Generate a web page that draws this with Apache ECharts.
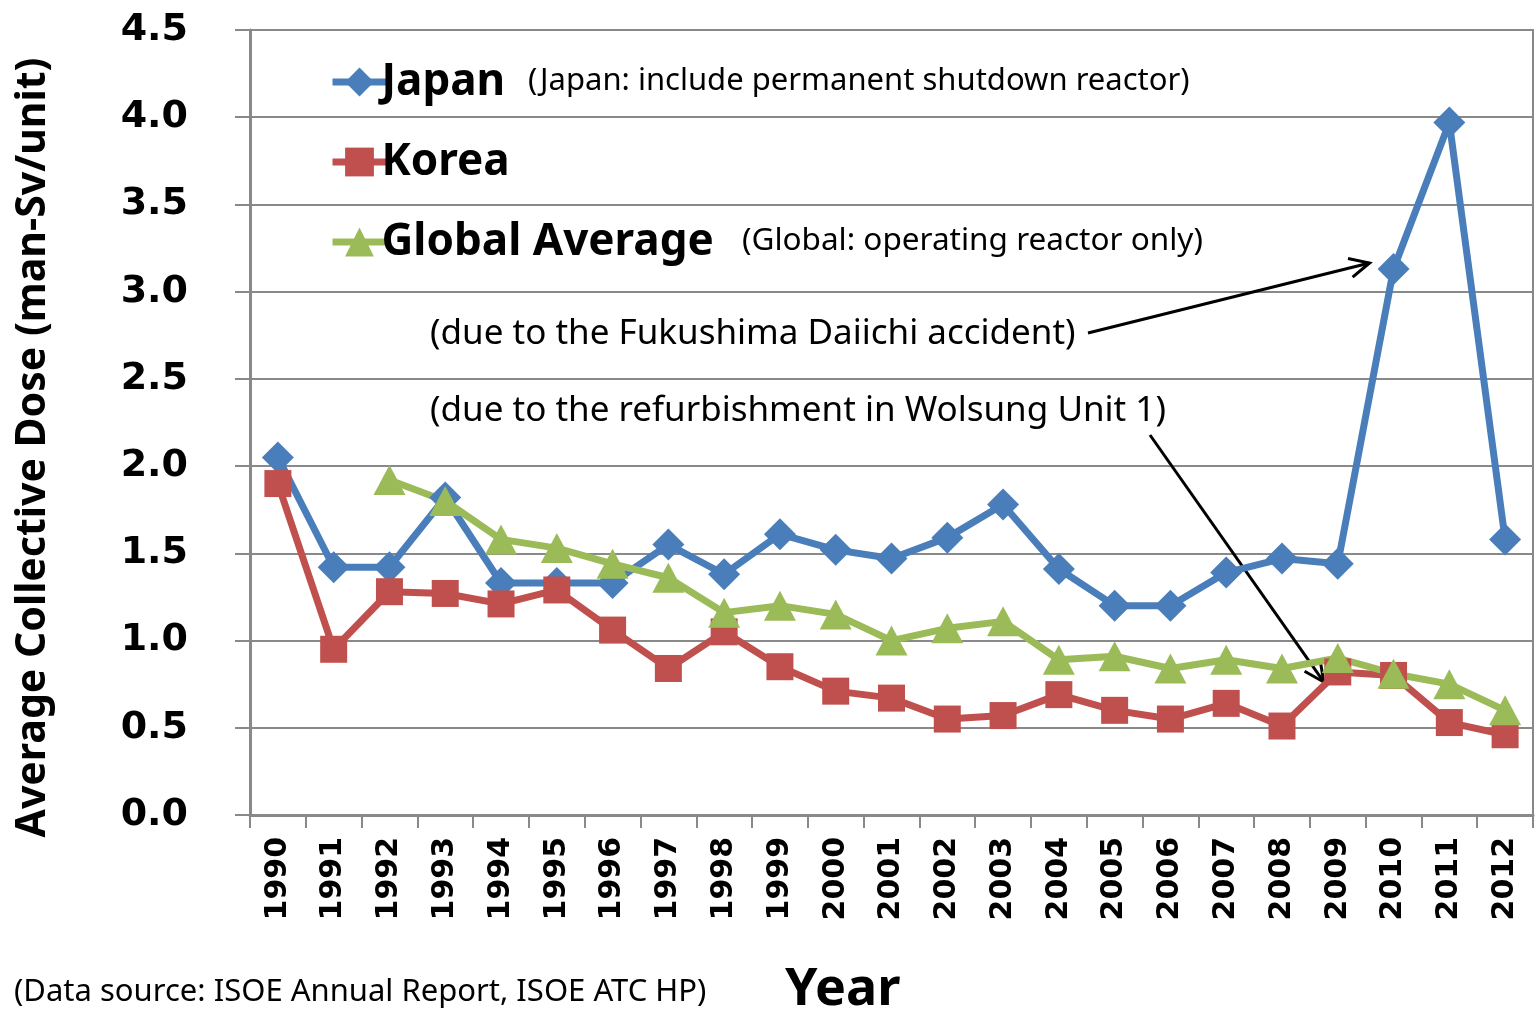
<!DOCTYPE html>
<html>
<head>
<meta charset="utf-8">
<title>Average Collective Dose</title>
<script src="https://cdn.jsdelivr.net/npm/echarts@6/dist/echarts.min.js"></script>
<style>
  html, body { margin: 0; padding: 0; background: #fff; }
  #chart { width: 1536px; height: 1011px; }
</style>
</head>
<body>
<div id="chart"></div>
<script>
const years = ['1990', '1991', '1992', '1993', '1994', '1995', '1996', '1997', '1998', '1999', '2000', '2001',
  '2002', '2003', '2004', '2005', '2006', '2007', '2008', '2009', '2010', '2011', '2012']
const japan = [2.05, 1.42, 1.42, 1.82, 1.33, 1.33, 1.33, 1.55, 1.38, 1.61, 1.52, 1.47,
  1.59, 1.78, 1.41, 1.20, 1.20, 1.39, 1.47, 1.44, 3.13, 3.97, 1.58]
const korea = [1.90, 0.95, 1.28, 1.27, 1.21, 1.29, 1.06, 0.84, 1.05, 0.85, 0.71, 0.67,
  0.55, 0.57, 0.69, 0.60, 0.55, 0.64, 0.51, 0.82, 0.80, 0.53, 0.46]
const globalAvg = [null, null, 1.92, 1.80, 1.58, 1.53, 1.44, 1.36, 1.16, 1.20, 1.15, 1.00,
  1.07, 1.11, 0.89, 0.91, 0.84, 0.89, 0.84, 0.90, 0.81, 0.75, 0.60]
const yTicks = { min: 0, max: 4.5, step: 0.5 }

const grey = '#898989'
const textFont = '"Noto Sans", sans-serif'
const numFont = '"DejaVu Sans", sans-serif'

const chart = echarts.init(document.getElementById('chart'))

const option = {
  animation: false,
  grid: {
    left: 250,
    right: 3,
    top: 30,
    bottom: 196,
    show: true,
    borderColor: grey,
    borderWidth: 2,
    outerBoundsMode: 'none'
  },
  legend: {
    orient: 'vertical',
    left: 324,
    top: 52,
    itemWidth: 54,
    itemHeight: 36,
    itemGap: 30,
    lineStyle: { width: 7 },
    data: ['Japan', 'Korea', 'Global Average'],
    textStyle: {
      fontFamily: textFont,
      fontWeight: 'bold',
      fontSize: 44,
      lineHeight: 50,
      color: '#000',
      padding: [0, 0, 0, -10]
    }
  },
  xAxis: {
    type: 'category',
    data: years,
    boundaryGap: true,
    axisLine: { lineStyle: { color: grey, width: 3 } },
    axisTick: { show: true, length: 13, interval: 0, lineStyle: { color: grey, width: 2 } },
    axisLabel: {
      interval: 0,
      rotate: 90,
      margin: 22,
      color: '#000',
      fontFamily: numFont,
      fontWeight: 'bold',
      fontSize: 30
    }
  },
  yAxis: {
    type: 'value',
    min: yTicks.min,
    max: yTicks.max,
    interval: yTicks.step,
    name: 'Average Collective Dose (man-Sv/unit)',
    nameLocation: 'middle',
    nameGap: 196,
    nameTextStyle: {
      fontFamily: textFont,
      fontWeight: 'bold',
      fontSize: 41,
      color: '#000',
      padding: [0, 50, 0, 0]
    },
    axisLine: { show: true, lineStyle: { color: grey, width: 3 } },
    axisTick: { show: true, length: 15, lineStyle: { color: grey, width: 2 } },
    axisLabel: {
      margin: 62,
      color: '#000',
      fontFamily: numFont,
      fontWeight: 'bold',
      fontSize: 38,
      formatter: v => v.toFixed(1)
    },
    splitLine: { lineStyle: { color: grey, width: 2 } }
  },
  series: [
    {
      name: 'Japan',
      type: 'line',
      data: japan,
      symbol: 'diamond',
      symbolSize: 32,
      lineStyle: { color: '#4a7ebb', width: 7 },
      itemStyle: { color: '#4a7ebb' }
    },
    {
      name: 'Korea',
      type: 'line',
      data: korea,
      symbol: 'rect',
      symbolSize: 27,
      lineStyle: { color: '#c0504d', width: 7 },
      itemStyle: { color: '#c0504d' }
    },
    {
      name: 'Global Average',
      type: 'line',
      data: globalAvg,
      symbol: 'triangle',
      symbolSize: [32, 30],
      lineStyle: { color: '#9bbb59', width: 7 },
      itemStyle: { color: '#9bbb59' }
    }
  ]
}

chart.setOption(option)

// open arrow from a start point to a tip
function arrow (from, to) {
  const ang = Math.atan2(to[1] - from[1], to[0] - from[0])
  const len = 22
  const spread = Math.PI / 7
  const a1 = [to[0] - len * Math.cos(ang - spread), to[1] - len * Math.sin(ang - spread)]
  const a2 = [to[0] - len * Math.cos(ang + spread), to[1] - len * Math.sin(ang + spread)]
  const style = { stroke: '#000', lineWidth: 3, fill: null }
  return [
    { type: 'line', shape: { x1: from[0], y1: from[1], x2: to[0], y2: to[1] }, style },
    { type: 'polyline', shape: { points: [a1, to, a2] }, style }
  ]
}

const pJapan2010 = chart.convertToPixel({ seriesIndex: 0 }, ['2010', japan[20]])
const pKorea2009 = chart.convertToPixel({ seriesIndex: 1 }, ['2009', korea[19]])

const note = (text, x, y, size) => ({
  type: 'text',
  x,
  y,
  style: { text, fontFamily: textFont, fontSize: size, fill: '#000', textVerticalAlign: 'middle' }
})

chart.setOption({
  graphic: [
    note('(Japan: include permanent shutdown reactor)', 528, 81, 31),
    note('(Global: operating reactor only)', 742, 241, 31.5),
    note('(due to the Fukushima Daiichi accident)', 430, 334, 35),
    note('(due to the refurbishment in Wolsung Unit 1)', 430, 411, 35),
    note('(Data source: ISOE Annual Report, ISOE ATC HP)', 14, 992, 31),
    {
      type: 'text',
      x: 785,
      y: 990,
      style: { text: 'Year', fontFamily: textFont, fontWeight: 'bold', fontSize: 52, fill: '#000', textVerticalAlign: 'middle' }
    },
    ...arrow([1088, 333], [pJapan2010[0] - 24, pJapan2010[1] - 6]),
    ...arrow([1150, 435], [pKorea2009[0] - 14, pKorea2009[1] + 10])
  ]
})

window.addEventListener('resize', () => chart.resize())
</script>
</body>
</html>
